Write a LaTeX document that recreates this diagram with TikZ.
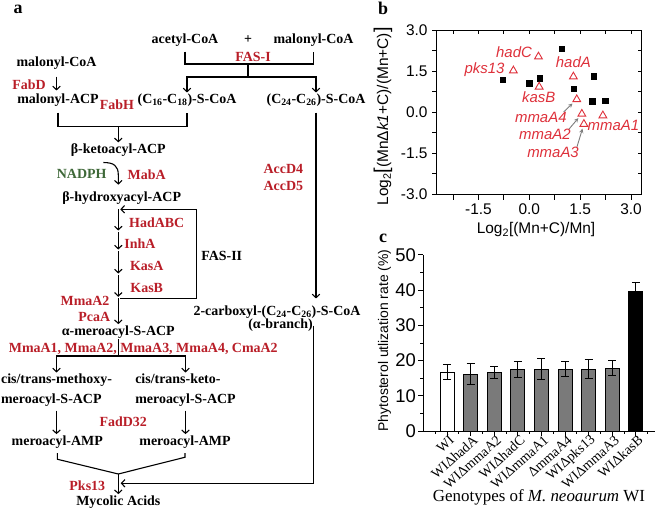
\documentclass[tikz,border=0pt]{standalone}
\usepackage{fontspec}
\setmainfont{Liberation Serif}
\newfontfamily\plotsans{Liberation Sans}
\usetikzlibrary{shapes.geometric,arrows,arrows.meta,positioning}

\definecolor{EnzRed}{RGB}{185,30,40}
\definecolor{GeneRed}{RGB}{222,48,58}
\definecolor{NadGreen}{RGB}{62,104,56}
\definecolor{BarGray}{RGB}{122,122,122}
\definecolor{PtrGray}{RGB}{125,125,125}

\tikzstyle{Met} = [font=\fontsize{14}{20}\selectfont\bfseries, inner sep=1bp]
\tikzstyle{Enz} = [Met, text=EnzRed]
\tikzstyle{Flow} = [line width=1.1bp]
\tikzstyle{Panel} = [font=\fontsize{18}{18}\selectfont\bfseries, inner sep=0pt]
\tikzstyle{Tick} = [font=\plotsans\fontsize{15.5}{16}\selectfont, inner sep=1bp]
\tikzstyle{BigTick} = [font=\plotsans\fontsize{18.5}{19}\selectfont, inner sep=1bp]
\tikzstyle{AxLabel} = [font=\plotsans\fontsize{15.5}{16}\selectfont, inner sep=0pt]
\tikzstyle{Gene} = [font=\plotsans\itshape\fontsize{15}{15}\selectfont, text=GeneRed, inner sep=0pt]
\tikzstyle{Tri} = [regular polygon, regular polygon sides=3, draw=GeneRed, line width=0.9bp, minimum size=9bp, inner sep=0pt]
\tikzstyle{Sq} = [rectangle, fill=black, minimum size=6.5bp, inner sep=0pt]
\tikzstyle{Pointer} = [-stealth, draw=PtrGray, line width=0.9bp, shorten >=2bp]
\tikzstyle{Geno} = [font=\fontsize{14}{14}\selectfont, inner sep=0pt, rotate=42, anchor=east]
\tikzstyle{Bar} = [draw=black, line width=0.8bp]

\begin{document}
\begin{tikzpicture}[x=1bp, y=-1bp, >={Straight Barb[length=3.5bp,width=7.5bp]}]
  \useasboundingbox (0,0) rectangle (661,511);

  % (a) pathway
  \node[Panel] (tagA)    at (18,9.5)     {a};
  \node[Met]   (acetyl)  at (185,40)     {acetyl-CoA};
  \node[Met]   (plus)    at (248,40)     {+};
  \node[Met]   (malcoaR) at (313.5,40)   {malonyl-CoA};
  \node[Enz]   (fasI)    at (253,57)     {FAS-I};
  \node[Met]   (malcoaL) at (56.5,63)    {malonyl-CoA};
  \node[Enz]   (fabD)    at (29,85)      {FabD};
  \node[Met]   (malacp)  at (58,100)     {malonyl-ACP};
  \node[Met]   (c16)     at (187,100)    {(C\textsubscript{16}-C\textsubscript{18})-S-CoA};
  \node[Met]   (c24)     at (316,100)    {(C\textsubscript{24}-C\textsubscript{26})-S-CoA};
  \node[Enz]   (fabH)    at (117,105)    {FabH};
  \node[Met]   (ketoacp) at (118.3,150)  {β-ketoacyl-ACP};
  \node[Met, text=NadGreen] (nadph) at (81.7,174.3) {NADPH};
  \node[Enz]   (mabA)    at (146.7,174.3) {MabA};
  \node[Enz]   (accD4)   at (283.3,169.3) {AccD4};
  \node[Enz]   (accD5)   at (283.3,186)  {AccD5};
  \node[Met]   (hydroxy) at (121.7,198.3) {β-hydroxyacyl-ACP};
  \node[Enz]   (hadABC)  at (156.7,222.7) {HadABC};
  \node[Enz]   (inhA)    at (140,243.3)  {InhA};
  \node[Enz]   (kasA)    at (146.7,266)  {KasA};
  \node[Enz]   (kasB)    at (146.7,287.7) {KasB};
  \node[Met]   (fasII)   at (221.7,256)  {FAS-II};
  \node[Enz]   (mmaA2)   at (85,300.7)   {MmaA2};
  \node[Enz]   (pcaA)    at (94.3,316.7) {PcaA};
  \node[Met]   (carboxy) at (277,312)    {2-carboxyl-(C\textsubscript{24}-C\textsubscript{26})-S-CoA};
  \node[Met]   (branch)  at (280.5,325.5) {(α-branch)};
  \node[Met]   (meroacp) at (118.3,331.7) {α-meroacyl-S-ACP};
  \node[Enz]   (mmaList) at (143.3,349)  {MmaA1, MmaA2, MmaA3, MmaA4, CmaA2};
  \node[Met, align=left] (methoxy) at (56.5,390) {cis/trans-methoxy-\\meroacyl-S-ACP};
  \node[Met, align=left] (keto)    at (185.5,390) {cis/trans-keto-\\meroacyl-S-ACP};
  \node[Enz]   (fadD32)  at (123.3,421.7) {FadD32};
  \node[Met]   (amp1)    at (57.3,441.7) {meroacyl-AMP};
  \node[Met]   (amp2)    at (185,441.7)  {meroacyl-AMP};
  \node[Enz]   (pks13)   at (87.3,486)   {Pks13};
  \node[Met]   (mycolic) at (118.3,501.7) {Mycolic Acids};

  \coordinate (fasbar)     at (248,64);
  \coordinate (fassplit)   at (248,77);
  \coordinate (fabHjoin)   at (118.3,126.7);
  \coordinate (hookStart)  at (103.3,162.5);
  \coordinate (loopIn)     at (118.3,209.3);
  \coordinate (stepA)      at (118.3,232);
  \coordinate (stepB)      at (118.3,251);
  \coordinate (stepC)      at (118.3,275);
  \coordinate (loopOut)    at (118.3,298.3);
  \coordinate (loopCorner) at (196.7,209.3);
  \coordinate (mmaJoin)    at (118.3,356);
  \coordinate (ampJoin)    at (118.3,474);
  \coordinate (branchIn)   at (120.7,483.3);

  \draw[Flow, shorten <=4bp, shorten >=4bp] (acetyl.south) |- (fasbar) -| (malcoaR.south);
  \draw[Flow] (fasbar) -- (fassplit);
  \draw[Flow,->] (fassplit) -| (c16.north);
  \draw[Flow,->] (fassplit) -| (c24.north);
  \draw[Flow,->, shorten <=6bp, shorten >=2bp] (malcoaL.south) -- (malcoaL.south |- malacp.north);
  \draw[Flow, shorten <=5bp, shorten >=5bp] (malacp.south) |- (fabHjoin) -| (c16.south);
  \draw[Flow,->] (fabHjoin) -- (ketoacp.north);
  \draw[Flow,->, shorten >=6bp] (hookStart) .. controls (114,162.5) and (118.3,166) .. (118.3,175) -- (ketoacp.south |- hydroxy.north);
  \draw[Flow,->, shorten >=1.5bp] (loopIn) -- (stepA);
  \draw[Flow,->, shorten >=1.5bp] (stepA) -- (stepB);
  \draw[Flow,->, shorten >=1.5bp] (stepB) -- (stepC);
  \draw[Flow,->, shorten >=1.5bp] (stepC) -- (loopOut);
  \draw[Flow,->] (loopOut) -- (meroacp.north);
  \draw[Flow,->] ([xshift=2bp]loopOut) -| (loopCorner) -- ([xshift=2bp]loopIn);
  \draw[Flow] (meroacp.south) -- (mmaJoin);
  \draw[Flow,->] (mmaJoin) -| (methoxy.north);
  \draw[Flow,->] (mmaJoin) -| (keto.north);
  \draw[Flow,->, shorten <=3bp] (methoxy.south) -- (methoxy.south |- amp1.north);
  \draw[Flow,->, shorten <=3bp] (keto.south) -- (keto.south |- amp2.north);
  \draw[Flow, shorten <=4bp] (amp1.south) -- ++(0,10) -- (ampJoin);
  \draw[Flow, shorten <=4bp] (amp2.south) -- ++(0,8) -- (ampJoin);
  \draw[Flow,->] (ampJoin) -- (mycolic.north);
  \draw[Flow,->, shorten <=5bp, shorten >=6bp] (c24.south) -- (c24.south |- carboxy.north);
  \draw[Flow,->] (branch.east) |- (branchIn);

  % (b) scatter
  \node[Panel] (tagB) at (383,8) {b};
  \begin{scope}[shift={(529.3,112.3)}, x=33.9bp, y=27.4bp]
    \draw[line width=1bp] (-2.73,-3) rectangle (3.32,3);
    \foreach \yv in {-3,-2.25,...,3} {
      \draw[line width=0.9bp] (-2.73,\yv) -- ++(-5bp,0);
      \draw[line width=0.9bp] (3.32,\yv) -- ++(-4bp,0);
    }
    \foreach \xv in {-2.25,-1.5,...,3} {
      \draw[line width=0.9bp] (\xv,-3) -- ++(0,-5bp);
      \draw[line width=0.9bp] (\xv,3) -- ++(0,-4bp);
    }
    \foreach \yv/\s [count=\i] in {3/3.0,1.5/1.5,0/0.0,-1.5/-1.5,-3/-3.0}
      \node[Tick, anchor=east] (ytickB\i) at ([xshift=-8bp]-2.73,\yv) {\s};
    \foreach \xv/\s [count=\i] in {-1.5/-1.5,0/0.0,1.5/1.5,3/3.0}
      \node[Tick, anchor=north] (xtickB\i) at ([yshift=-8bp]\xv,-3) {\s};

    \node[Sq] (sq1) at (-0.78,1.18) {};
    \node[Sq] (sq2) at (0.0,1.06)   {};
    \node[Sq] (sq3) at (0.32,1.23)  {};
    \node[Sq] (sq4) at (0.97,2.31)  {};
    \node[Sq] (sq5) at (1.91,1.30)  {};
    \node[Sq] (sq6) at (1.32,0.85)  {};
    \node[Sq] (sq7) at (1.86,0.39)  {};
    \node[Sq] (sq8) at (2.25,0.42)  {};

    \node[Tri] (triHadC)  at (0.27,2.03)  {};
    \node[Tri] (triPks13) at (-0.47,1.52) {};
    \node[Tri] (triKasB)  at (0.29,0.93)  {};
    \node[Tri] (triHadA)  at (1.30,1.30)  {};
    \node[Tri] (triA4)    at (1.40,0.47)  {};
    \node[Tri] (triA2)    at (1.55,-0.06) {};
    \node[Tri] (triA3)    at (1.61,-0.43) {};
    \node[Tri] (triA1)    at (2.17,-0.12) {};

    \node[Gene] (lbHadC)  at (-0.45,2.19) {hadC};
    \node[Gene] (lbPks13) at (-1.32,1.54) {pks13};
    \node[Gene] (lbHadA)  at (1.30,1.82)  {hadA};
    \node[Gene] (lbKasB)  at (0.28,0.57)  {kasB};
    \node[Gene] (lbA4)    at (0.34,-0.18) {mmaA4};
    \node[Gene] (lbA2)    at (0.46,-0.82) {mmaA2};
    \node[Gene] (lbA3)    at (0.70,-1.46) {mmaA3};
    \node[Gene] (lbA1)    at (2.48,-0.49) {mmaA1};
  \end{scope}
  \draw[Pointer] ([xshift=-3bp]lbA4.north east) -- (triA4);
  \draw[Pointer] ([xshift=-2bp]lbA2.north east) -- (triA2);
  \draw[Pointer] ([xshift=-2bp]lbA3.north east) -- (triA3);
  \node[AxLabel] (xlabB) at (536,230) {Log\textsubscript{2}[(Mn+C)/Mn]};
  \node[AxLabel, rotate=90] (ylabB) at (383,116.5) {Log\textsubscript{2}{\fontsize{20}{20}\selectfont[}(MnΔ\textit{k1}+C)/(Mn+C){\fontsize{20}{20}\selectfont]}};

  % (c) bars
  \node[Panel] (tagC) at (383,238) {c};
  \begin{scope}[shift={(0,431)}, x=1bp, y=3.52bp]
    \draw[line width=1bp] (423,0) -- (423,50);
    \draw[line width=1bp] (418,0) -- (655,0);
    \foreach \v in {0,10,...,50} \draw[line width=1bp] (423,\v) -- ++(-5bp,0);
    \foreach \v in {5,15,...,45} \draw[line width=1bp] (423,\v) -- ++(-3bp,0);
    \foreach \v [count=\i] in {0,10,...,50}
      \node[BigTick, anchor=east] (ytickC\i) at ([xshift=-6bp]423,\v) {\v};
    \foreach \cx/\v/\e/\fc in {447/16.7/2.1/white, 470.6/16.2/3.0/BarGray,
        494.2/16.7/1.7/BarGray, 517.8/17.5/2.2/BarGray, 541.4/17.6/3.1/BarGray,
        565/17.6/2.2/BarGray, 588.6/17.6/2.6/BarGray, 612.2/17.9/2.1/BarGray,
        635.8/39.7/2.5/black} {
      \draw[Bar, fill=\fc] ({\cx-7},0) rectangle ({\cx+7},\v);
      \draw[line width=1bp] (\cx,{\v-\e}) -- (\cx,{\v+\e});
      \draw[line width=1bp] ({\cx-4},{\v+\e}) -- ({\cx+4},{\v+\e});
      \draw[line width=1bp] ({\cx-4},{\v-\e}) -- ({\cx+4},{\v-\e});
      \draw[line width=1bp] (\cx,0) -- ++(0,-5bp);
      \draw[line width=1bp] ({\cx-11.8},0) -- ++(0,-3bp);
    }
    \draw[line width=1bp] (647.6,0) -- ++(0,-3bp);
  \end{scope}
  \node[Geno] (gWI)    at (452,438)   {WI};
  \node[Geno] (gHadA)  at (475.6,438) {WIΔhadA};
  \node[Geno] (gMmaA2) at (499.2,438) {WIΔmmaA2};
  \node[Geno] (gHadC)  at (522.8,438) {WIΔhadC};
  \node[Geno] (gMmaA1) at (546.4,438) {WIΔmmaA1};
  \node[Geno] (gMmaA4) at (570,438)   {ΔmmaA4};
  \node[Geno] (gPks13) at (593.6,438) {WIΔpks13};
  \node[Geno] (gMmaA3) at (617.2,438) {WIΔmmaA3};
  \node[Geno] (gKasB)  at (640.8,438) {WIΔkasB};
  \node[font=\fontsize{17}{17}\selectfont, inner sep=0pt] (xlabC) at (539,497) {Genotypes of \textit{M. neoaurum} WI};
  \node[font=\plotsans\fontsize{14}{14}\selectfont, inner sep=0pt, rotate=90] (ylabC) at (384.5,340.5) {Phytosterol utlization rate (\%)};
\end{tikzpicture}
\end{document}
